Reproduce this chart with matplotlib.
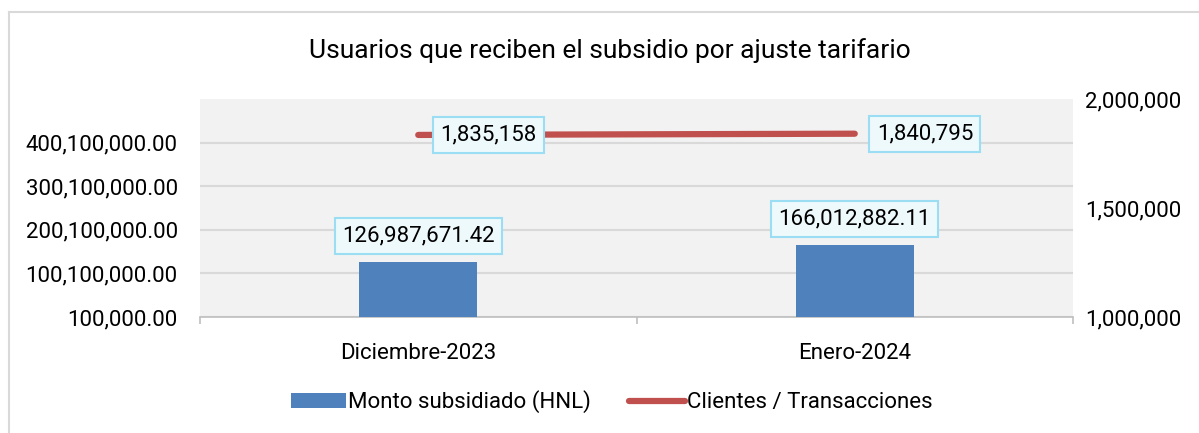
import matplotlib
matplotlib.use('Agg')
import matplotlib.pyplot as plt
from matplotlib.lines import Line2D
from matplotlib.ticker import FuncFormatter, FixedLocator

plt.rcParams['font.family'] = ['Roboto', 'DejaVu Sans']

# data
categorias = ['Diciembre-2023', 'Enero-2024']
monto = [126987671.42, 166012882.11]
clientes = [1835158, 1840795]
ticks_izq = [100000, 100100000, 200100000, 300100000, 400100000]
ticks_der = [1000000, 1500000, 2000000]

azul = '#4F81BD'
rojo = '#C0504D'
fs = 16

fig = plt.figure(figsize=(11.99, 4.33), dpi=100)
ax = fig.add_axes([200 / 1199, 1 - 317 / 433, 873 / 1199, 218 / 433])
ax.set_facecolor('#F2F2F2')

x = list(range(len(categorias)))
ax.bar(x, monto, width=0.27, color=azul, zorder=3, label='Monto subsidiado (HNL)')
ax.set_xlim(-0.5, 1.5)
ax.set_ylim(100000, 500000000)
ax.set_yticks(ticks_izq)
ax.yaxis.set_major_formatter(FuncFormatter(lambda v, p: '{:,.2f}'.format(v)))
ax.grid(axis='y', color='#D9D9D9', linewidth=1.5, zorder=0)
ax.set_xticks(x)
ax.set_xticklabels(categorias)
ax.xaxis.set_minor_locator(FixedLocator([-0.5, 0.5, 1.5]))
ax.tick_params(axis='x', which='major', length=0, pad=19, labelsize=fs)
ax.tick_params(axis='x', which='minor', length=5, color='#BFBFBF', width=1.2)
ax.tick_params(axis='y', length=0, pad=16, labelsize=fs)
for s in ['top', 'right', 'left']:
    ax.spines[s].set_visible(False)
ax.spines['bottom'].set_color('#BFBFBF')
ax.spines['bottom'].set_linewidth(1.2)

box = dict(boxstyle='square,pad=0.33', facecolor='#EEF9FC', edgecolor='#9BDDF2', linewidth=1.5)
for xi, v in zip(x, monto):
    ax.annotate('{:,.2f}'.format(v), (xi, v), xytext=(0, 15), textcoords='offset pixels',
                ha='center', va='bottom', fontsize=fs, bbox=box, zorder=5)

ax2 = ax.twinx()
ax2.plot(x, clientes, color=rojo, linewidth=4.5, solid_capstyle='round', zorder=4,
         label='Clientes / Transacciones')
ax2.set_ylim(1000000, 2000000)
ax2.set_yticks(ticks_der)
ax2.yaxis.set_major_formatter(FuncFormatter(lambda v, p: '{:,.0f}'.format(v)))
ax2.tick_params(axis='y', length=0, pad=9, labelsize=fs)
for s in ['top', 'right', 'left', 'bottom']:
    ax2.spines[s].set_visible(False)
for xi, v in zip(x, clientes):
    ax2.annotate('{:,}'.format(v), (xi, v), xytext=(22, 0), textcoords='offset pixels',
                 ha='left', va='center', fontsize=fs, bbox=box, zorder=5)

fig.text(0.509, 1 - 51 / 433, 'Usuarios que reciben el subsidio por ajuste tarifario',
         ha='center', va='center', fontsize=19)

h1, l1 = ax.get_legend_handles_labels()
h2, l2 = ax2.get_legend_handles_labels()
fig.legend(h1 + h2, l1 + l2, loc='center', bbox_to_anchor=(0.51, 1 - 402 / 433), ncol=2,
           frameon=False, fontsize=fs, handlelength=2.5, handletextpad=0.1, columnspacing=1.7)

# chart frame
fig.add_artist(Line2D([9 / 1199, 9 / 1199], [0, 1 - 12 / 433], transform=fig.transFigure,
                      color='#D9D9D9', linewidth=1.5))
fig.add_artist(Line2D([9 / 1199, 1], [1 - 12 / 433, 1 - 12 / 433], transform=fig.transFigure,
                      color='#D9D9D9', linewidth=1.5))

fig.savefig('out.png', dpi=100)
